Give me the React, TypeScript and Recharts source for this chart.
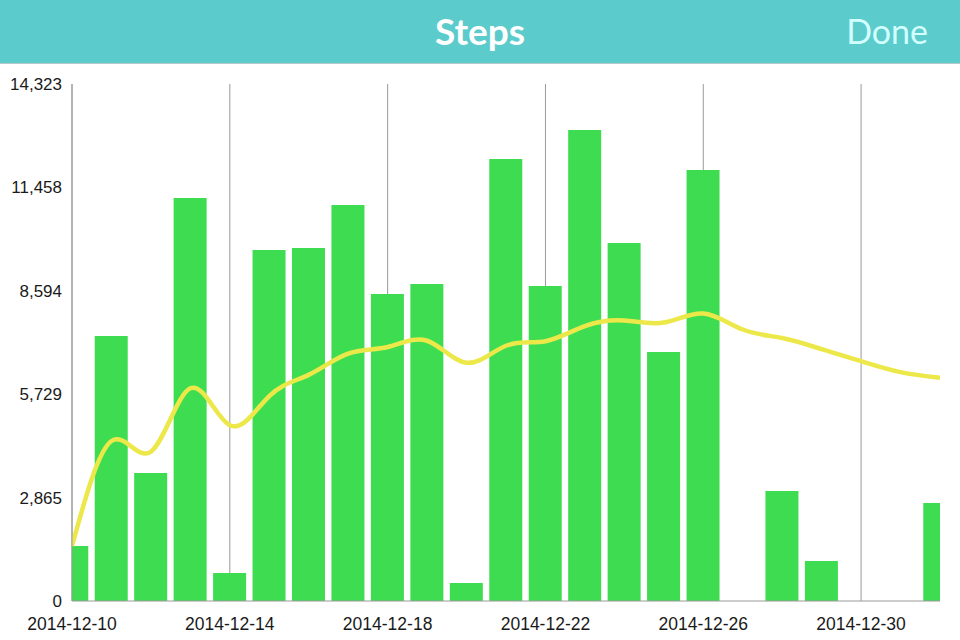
import { ComposedChart, Bar, Line, XAxis, YAxis, CartesianGrid } from "recharts";

const dates = [
  "2014-12-10", "2014-12-11", "2014-12-12", "2014-12-13", "2014-12-14", "2014-12-15",
  "2014-12-16", "2014-12-17", "2014-12-18", "2014-12-19", "2014-12-20", "2014-12-21",
  "2014-12-22", "2014-12-23", "2014-12-24", "2014-12-25", "2014-12-26", "2014-12-27",
  "2014-12-28", "2014-12-29", "2014-12-30", "2014-12-31", "2015-01-01",
];

// daily step counts (bars)
const steps = [
  1523, 7340, 3546, 11163, 776, 9723, 9778, 10970, 8504, 8781, 499, 12244,
  8725, 13047, 9917, 6898, 11939, 0, 3047, 1108, 0, 0, 2715,
];

// running average (yellow line)
const average = [
  1523, 4432, 4136, 5893, 4870, 5679, 6264, 6852, 7036, 7210, 6600, 7071,
  7198, 7616, 7769, 7715, 7963, 7521, 7285, 6976, 6644, 6342, 6184,
];

const yTicks = [0, 2865, 5729, 8594, 11458, 14323];
const xTicks = [0, 4, 8, 12, 16, 20];
const lastDay = dates.length - 1;

const data = dates.map((date, i) => ({ day: i, date, steps: steps[i], average: average[i] }));

const tickFont = { fontFamily: "'Liberation Sans', Arial, sans-serif", fontSize: 17, fill: "#1a1a1a" };

export default function App() {
  return (
    <div style={{ position: "absolute", left: 0, top: 0, width: 960, height: 640, background: "#fff" }}>
      <div
        style={{
          height: 63,
          background: "#5BCBCB",
          borderBottom: "1px solid #b9c9c9",
          position: "relative",
          fontFamily: "Lato, 'Open Sans', sans-serif",
        }}
      >
        <div
          style={{
            position: "absolute",
            left: 0,
            right: 0,
            top: 8,
            textAlign: "center",
            color: "#fff",
            fontWeight: 700,
            fontSize: 37,
          }}
        >
          Steps
        </div>
        <div
          style={{
            position: "absolute",
            right: 32,
            top: 10,
            color: "#D2FFFF",
            fontWeight: 400,
            fontSize: 34,
          }}
        >
          Done
        </div>
      </div>
      <ComposedChart width={960} height={576} data={data} margin={{ top: 20, right: 20, left: 0, bottom: 0 }}>
        <CartesianGrid
          horizontal={false}
          stroke="#9a9a9a"
          strokeWidth={1}
          verticalCoordinatesGenerator={({ offset }: any) =>
            xTicks.map((t) => offset.left + (offset.width * t) / lastDay)
          }
        />
        <XAxis
          dataKey="day"
          type="number"
          domain={[0, lastDay]}
          ticks={xTicks}
          allowDataOverflow
          tickFormatter={(v: number) => dates[v]}
          tickLine={false}
          tickSize={0}
          tickMargin={17}
          height={39}
          axisLine={{ stroke: "#9a9a9a" }}
          tick={{ ...tickFont, fontSize: 17.5 }}
          interval={0}
        />
        <YAxis
          domain={[0, 14323]}
          ticks={yTicks}
          tickFormatter={(v: number) => v.toLocaleString("en-US")}
          tickLine={false}
          tickSize={0}
          tickMargin={10}
          width={72}
          axisLine={{ stroke: "#9a9a9a" }}
          tick={tickFont}
          interval={0}
        />
        <Bar dataKey="steps" fill="#3EDC50" barSize={33} isAnimationActive={false} />
        <Line
          dataKey="average"
          type="natural"
          stroke="#EDE84A"
          strokeWidth={4.5}
          dot={false}
          activeDot={false}
          isAnimationActive={false}
        />
      </ComposedChart>
    </div>
  );
}
